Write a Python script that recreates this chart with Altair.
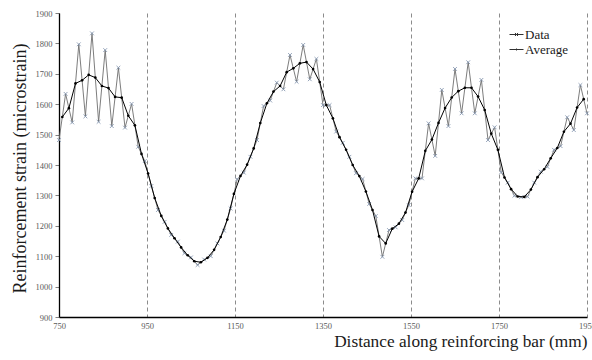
import altair as alt
import pandas as pd

FONT = "Liberation Serif"

# ---- data ----
x_data = [750, 765, 780, 795, 810, 825, 840, 855, 870, 885, 900, 915, 930, 945,
          960, 975, 990, 1005, 1020, 1035, 1050, 1065, 1080, 1095, 1110, 1125,
          1140, 1155, 1170, 1185, 1200, 1215, 1230, 1245, 1260, 1275, 1290, 1305,
          1320, 1335, 1350, 1365, 1380, 1395, 1410, 1425, 1440, 1455, 1470, 1485,
          1500, 1515, 1530, 1545, 1560, 1575, 1590, 1605, 1620, 1635, 1650, 1665,
          1680, 1695, 1710, 1725, 1740, 1755, 1770, 1785, 1800, 1815, 1830, 1845,
          1860, 1875, 1890, 1905, 1920, 1935, 1950]
y_data = [1482, 1634, 1540, 1797, 1560, 1833, 1542, 1778, 1528, 1720, 1523, 1601,
          1460, 1413, 1331, 1252, 1213, 1170, 1148, 1110, 1096, 1071, 1089, 1100,
          1142, 1184, 1257, 1353, 1375, 1427, 1482, 1594, 1612, 1671, 1649, 1762,
          1674, 1795, 1682, 1749, 1597, 1597, 1510, 1473, 1427, 1373, 1354, 1272,
          1232, 1098, 1186, 1195, 1219, 1268, 1356, 1356, 1537, 1430, 1647, 1528,
          1716, 1570, 1738, 1570, 1680, 1482, 1524, 1376, 1342, 1299, 1294, 1296,
          1342, 1378, 1394, 1450, 1462, 1557, 1515, 1663, 1570]

x_avg = [757.5, 772.5, 787.5, 802.5, 817.5, 832.5, 847.5, 862.5, 877.5, 892.5,
         907.5, 922.5, 937.5, 952.5, 967.5, 982.5, 997.5, 1012.5, 1027.5, 1042.5,
         1057.5, 1072.5, 1087.5, 1102.5, 1117.5, 1132.5, 1147.5, 1162.5, 1177.5,
         1192.5, 1207.5, 1222.5, 1237.5, 1252.5, 1267.5, 1282.5, 1297.5, 1312.5,
         1327.5, 1342.5, 1357.5, 1372.5, 1387.5, 1402.5, 1417.5, 1432.5, 1447.5,
         1462.5, 1477.5, 1492.5, 1507.5, 1522.5, 1537.5, 1552.5, 1567.5, 1582.5,
         1597.5, 1612.5, 1627.5, 1642.5, 1657.5, 1672.5, 1687.5, 1702.5, 1717.5,
         1732.5, 1747.5, 1762.5, 1777.5, 1792.5, 1807.5, 1822.5, 1837.5, 1852.5,
         1867.5, 1882.5, 1897.5, 1912.5, 1927.5, 1942.5]
y_avg = [1558, 1587, 1668.5, 1678.5, 1696.5, 1687.5, 1660, 1653, 1624, 1621.5,
         1562, 1530.5, 1436.5, 1372, 1291.5, 1232.5, 1191.5, 1159, 1129, 1103,
         1083.5, 1080, 1094.5, 1121, 1163, 1220.5, 1305, 1364, 1401, 1454.5,
         1538, 1603, 1641.5, 1660, 1705.5, 1718, 1734.5, 1738.5, 1715.5, 1673,
         1597, 1553.5, 1491.5, 1450, 1400, 1363.5, 1313, 1252, 1165, 1142,
         1190.5, 1207, 1243.5, 1312, 1356, 1446.5, 1483.5, 1538.5, 1587.5, 1622,
         1643, 1654, 1654, 1625, 1581, 1503, 1450, 1359, 1320.5, 1296.5,
         1295, 1319, 1360, 1386, 1422, 1456, 1509.5, 1536, 1589, 1616.5]

series_names = ["Data", "Average"]
x_ticks = [750, 950, 1150, 1350, 1550, 1750, 1950]
y_ticks = [900, 1000, 1100, 1200, 1300, 1400, 1500, 1600, 1700, 1800, 1900]

df_data = pd.DataFrame({"x": x_data, "y": y_data, "series": series_names[0]})
df_avg = pd.DataFrame({"x": x_avg, "y": y_avg, "series": series_names[1]})
df_leg = pd.DataFrame({"series": series_names})

xs = alt.Scale(domain=[750, 1950], nice=False, zero=False)
ys = alt.Scale(domain=[900, 1900], nice=False, zero=False)

x_axis = alt.Axis(
    values=x_ticks, format="d", grid=True, gridDash=[4, 3], gridColor="#8c8c8c",
    gridWidth=1, ticks=False, labelPadding=4, labelFlush=False, labelOverlap=False,
    labelFont=FONT, labelFontSize=8.5, labelColor="#595959",
    domainColor="#000000", domainWidth=1.3,
    title="Distance along reinforcing bar (mm)", titleFont=FONT, titleFontSize=17.3,
    titleFontWeight="normal", titleColor="#1a1a1a", titleAlign="right",
    titleBaseline="alphabetic", titleX=528, titleY=29,
)
y_axis = alt.Axis(
    values=y_ticks, tickCount=11, format="d", grid=False, tickSize=4, tickColor="#808080",
    labelPadding=3, labelOverlap=False, labelFont=FONT, labelFontSize=8.5,
    labelColor="#595959", domainColor="#000000", domainWidth=1.3,
    title="Reinforcement strain (microstrain)", titleFont=FONT, titleFontSize=18,
    titleFontWeight="normal", titleColor="#1a1a1a", titleAngle=270,
    titleAlign="center", titleBaseline="alphabetic", titleX=-34, titleY=155,
)

X_SHAPE = "M-1,-1L1,1M-1,1L1,-1"
LEG_DATA = "M-1,0L1,0M-0.22,-0.22L0.22,0.22M-0.22,0.22L0.22,-0.22"
LEG_AVG = "M-1,0L1,0M-0.09,0A0.09,0.09 0 1,0 0.09,0A0.09,0.09 0 1,0 -0.09,0"


def enc():
    return dict(x=alt.X("x:Q", scale=xs, axis=x_axis),
                y=alt.Y("y:Q", scale=ys, axis=y_axis))


line_data = alt.Chart(df_data).mark_line(color="#6e6e6e", strokeWidth=0.9).encode(**enc())
pts_data = alt.Chart(df_data).mark_point(
    shape=X_SHAPE, size=14, filled=False, color="#8797b0", strokeWidth=0.9, opacity=1
).encode(**enc())
line_avg = alt.Chart(df_avg).mark_line(color="#000000", strokeWidth=1).encode(**enc())
pts_avg = alt.Chart(df_avg).mark_circle(color="#000000", size=7, opacity=1).encode(**enc())

legend_layer = alt.Chart(df_leg).transform_filter("false").mark_point(
    filled=False, color="#303030", strokeWidth=1, opacity=1
).encode(
    shape=alt.Shape(
        "series:N",
        scale=alt.Scale(domain=series_names, range=[LEG_DATA, LEG_AVG]),
        legend=alt.Legend(
            title=None, orient="none", legendX=450, legendY=14, direction="vertical",
            labelFont=FONT, labelFontSize=13, labelColor="#1a1a1a", symbolSize=196,
            symbolStrokeWidth=1, symbolStrokeColor="#303030", labelOffset=1,
            rowPadding=0, padding=0,
        ),
    )
)

chart = alt.layer(line_data, pts_data, line_avg, pts_avg, legend_layer).properties(
    width=528, height=304,
    padding={"left": 59, "top": 13, "right": 5, "bottom": 43},
    autosize=alt.AutoSizeParams(type="none"),
    background="white",
).configure_view(stroke=None).configure_axisY(labelOverlap=False)

chart.save("out.html", embed_options={"renderer": "svg", "actions": False})
